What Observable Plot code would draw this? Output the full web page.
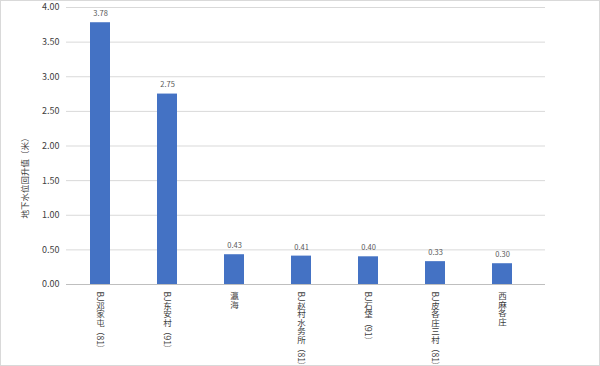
<!DOCTYPE html>
<html><head><meta charset="utf-8">
<script src="https://cdn.jsdelivr.net/npm/d3@7"></script>
<script src="https://cdn.jsdelivr.net/npm/@observablehq/plot@0.6"></script>
<style>
html,body{margin:0;padding:0;background:#fff;}
#wrap{position:relative;width:600px;height:366px;}
#border{position:absolute;left:0;top:0;width:600px;height:366px;box-sizing:border-box;border:1px solid #d9d9d9;pointer-events:none;}
</style></head>
<body><div id="wrap"><div id="border"></div></div>
<script>
const stations = ["BJ邓家屯（81）","BJ东安村（91）","瀛海","BJ赵村水务所（81）","BJ石垡（91）","BJ皮各庄三村（81）","西麻各庄"];
const rises = [3.78, 2.75, 0.43, 0.41, 0.40, 0.33, 0.30];
const yTicks = [0, 0.5, 1, 1.5, 2, 2.5, 3, 3.5, 4];
const yTitle = "地下水位回升值（米）";

const data = stations.map((s, i) => ({station: s, value: rises[i]}));
const font = "'Noto Sans CJK SC', 'Microsoft YaHei', sans-serif";

const chart = Plot.plot({
  width: 600, height: 366,
  marginTop: 7, marginBottom: 82, marginLeft: 66, marginRight: 55,
  style: {fontFamily: font, fontSize: "9px", color: "#404040", background: "#fff"},
  x: {domain: stations, paddingInner: 0.7, paddingOuter: 0.4, align: 0.43, label: null},
  y: {domain: [0, 4], label: null},
  marks: [
    Plot.gridY(yTicks, {stroke: "#d9d9d9", strokeOpacity: 1}),
    Plot.ruleY([0], {stroke: "#bfbfbf"}),
    Plot.barY(data, {x: "station", y: "value", fill: "#4472C4"}),
    Plot.text(data, {x: "station", y: "value", text: d => d.value.toFixed(2), dy: -9, fontSize: 7.5, fill: "#595959"}),
    Plot.axisY(yTicks, {tickSize: 0, tickPadding: 7, tickFormat: d => d.toFixed(2), fontSize: 9, fill: "#404040", label: null}),
    Plot.axisX({tickSize: 0, tickPadding: 1, fontSize: 8.5, fill: "#404040", label: null}),
    Plot.text([yTitle], {frameAnchor: "left", text: d => d, rotate: -90, dx: -41, fontSize: 8.5, fill: "#404040", className: "ytitle"})
  ]
});
document.getElementById("wrap").prepend(chart);

// vertical (stacked) tick labels like the original
d3.select(chart).selectAll("g[aria-label='x-axis tick label'] text").each(function() {
  d3.select(this).attr("dy", null)
   .style("writing-mode", "vertical-rl")
   .style("text-orientation", "mixed")
   .attr("text-anchor", "start");
});
// the original's axis title sits lower than the plot's vertical centre
const tg = chart.querySelector("g.ytitle");
const bb = tg.getBoundingClientRect();
const cb = chart.getBoundingClientRect();
const shift = 176 - ((bb.top + bb.bottom) / 2 - cb.top);
const old = tg.getAttribute("transform") || "";
tg.setAttribute("transform", old + ` translate(0,${shift})`);
</script></body></html>
